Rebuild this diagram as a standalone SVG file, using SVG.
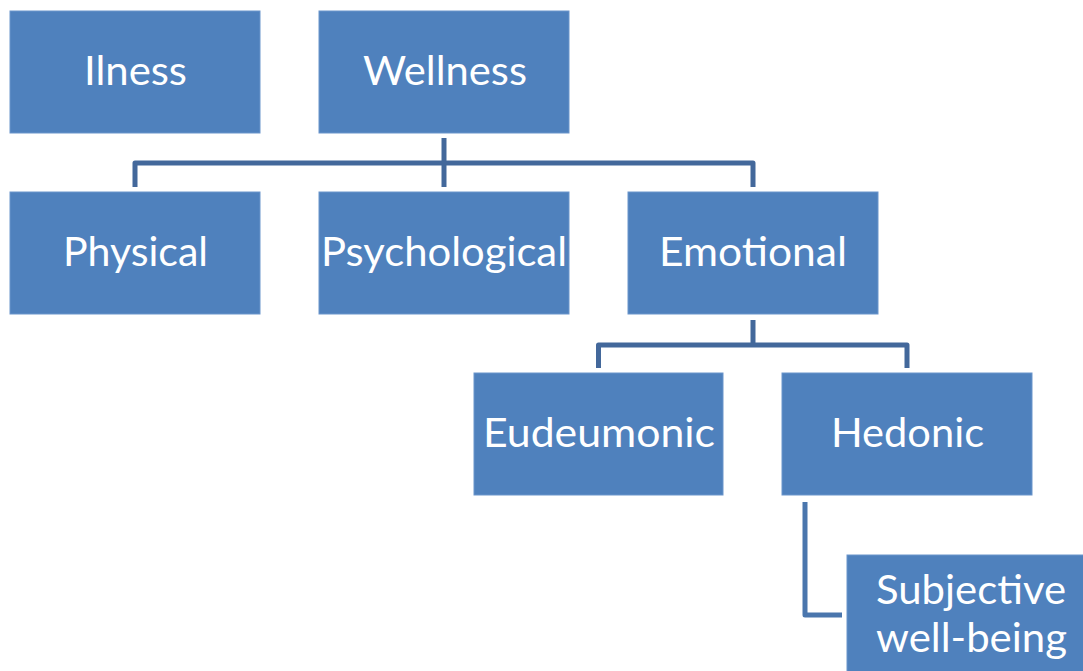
<svg xmlns="http://www.w3.org/2000/svg" width="1083" height="671" viewBox="0 0 1083 671">
  <style>
    .box { fill: #4F81BD; stroke: #6B95CB; stroke-width: 1; }
    .lbl { font-family: Lato, "Open Sans", "Liberation Sans", sans-serif; font-size: 40px; fill: #FFFFFF; text-anchor: middle; }
    .wire { fill: none; stroke: #43689B; stroke-width: 5; stroke-linejoin: round; }
    .wire2 { fill: none; stroke: #4A76AD; stroke-width: 5; stroke-linejoin: round; }
  </style>
  <rect width="1083" height="671" fill="#FFFFFF"/>

  <g id="connectors">
    <!-- Wellness to its three branches -->
    <path class="wire" d="M444 138 V187"/>
    <path class="wire" d="M135 187 V163 H753 V187"/>
    <!-- Emotional to its two branches -->
    <path class="wire" d="M753 320 V345"/>
    <path class="wire" d="M598.5 368 V345 H907 V368"/>
    <!-- Hedonic to subjective well-being -->
    <path class="wire2" d="M805 502 V615 H842"/>
  </g>

  <g id="ilness">
    <rect class="box" x="10" y="11" width="250" height="122"/>
    <text class="lbl" x="135.5" y="85" textLength="103" lengthAdjust="spacingAndGlyphs">Ilness</text>
  </g>
  <g id="wellness">
    <rect class="box" x="319" y="11" width="250" height="122"/>
    <text class="lbl" x="445" y="85" textLength="164" lengthAdjust="spacingAndGlyphs">Wellness</text>
  </g>
  <g id="physical">
    <rect class="box" x="10" y="192" width="250" height="122"/>
    <text class="lbl" x="135.5" y="266" textLength="145" lengthAdjust="spacingAndGlyphs">Physical</text>
  </g>
  <g id="psychological">
    <rect class="box" x="319" y="192" width="250" height="122"/>
    <text class="lbl" x="444" y="266" textLength="246" lengthAdjust="spacingAndGlyphs">Psychological</text>
  </g>
  <g id="emotional">
    <rect class="box" x="628" y="192" width="250" height="122"/>
    <text class="lbl" x="753" y="266" textLength="188" lengthAdjust="spacingAndGlyphs">Emotional</text>
  </g>
  <g id="eudeumonic">
    <rect class="box" x="474" y="373" width="249" height="122"/>
    <text class="lbl" x="599" y="447" textLength="232" lengthAdjust="spacingAndGlyphs">Eudeumonic</text>
  </g>
  <g id="hedonic">
    <rect class="box" x="782" y="373" width="250" height="122"/>
    <text class="lbl" x="907.5" y="447" textLength="153" lengthAdjust="spacingAndGlyphs">Hedonic</text>
  </g>
  <g id="subjective-well-being">
    <rect class="box" x="847" y="555" width="250" height="130"/>
    <text class="lbl" x="971" y="604" textLength="190" lengthAdjust="spacingAndGlyphs">Subjective</text>
    <text class="lbl" x="971.5" y="652" textLength="191" lengthAdjust="spacingAndGlyphs">well-being</text>
  </g>
</svg>
